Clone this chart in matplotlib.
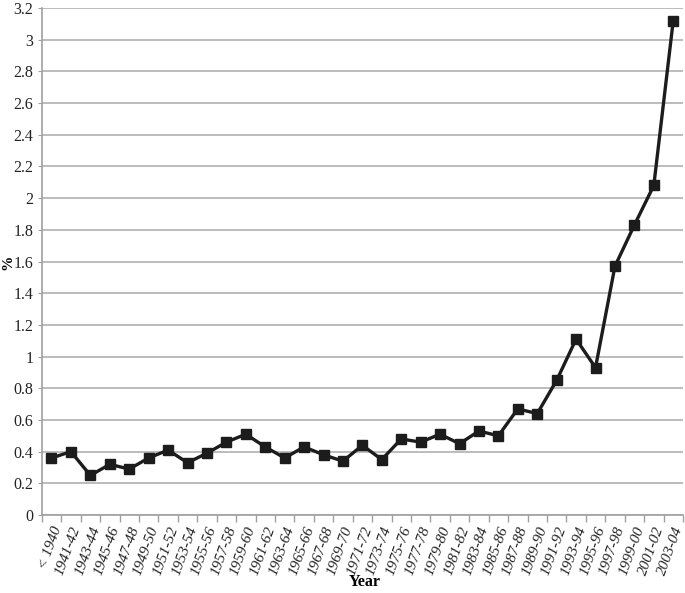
import matplotlib
matplotlib.use("Agg")
import matplotlib.pyplot as plt
from matplotlib.ticker import FixedLocator, FuncFormatter

categories = ["< 1940", "1941-42", "1943-44", "1945-46", "1947-48", "1949-50", "1951-52",
              "1953-54", "1955-56", "1957-58", "1959-60", "1961-62", "1963-64", "1965-66",
              "1967-68", "1969-70", "1971-72", "1973-74", "1975-76", "1977-78", "1979-80",
              "1981-82", "1983-84", "1985-86", "1987-88", "1989-90", "1991-92", "1993-94",
              "1995-96", "1997-98", "1999-00", "2001-02", "2003-04"]
values = [0.36, 0.40, 0.25, 0.32, 0.29, 0.36, 0.41, 0.33, 0.39, 0.46, 0.51, 0.43, 0.36,
          0.43, 0.38, 0.34, 0.44, 0.35, 0.48, 0.46, 0.51, 0.45, 0.53, 0.50, 0.67, 0.64,
          0.85, 1.11, 0.93, 1.57, 1.83, 2.08, 3.12]
yticks = [0, 0.2, 0.4, 0.6, 0.8, 1.0, 1.2, 1.4, 1.6, 1.8, 2.0, 2.2, 2.4, 2.6, 2.8, 3.0, 3.2]

plt.rcParams['font.family'] = ['Liberation Serif', 'DejaVu Serif']

fig = plt.figure(figsize=(6.85, 5.93), dpi=100)
ax = fig.add_axes([0.061, 0.1315, 0.936, 0.855])

x = list(range(len(categories)))
ax.plot(x, values, color='#1c1c1c', linewidth=2.4, marker='s', markersize=6.5,
        zorder=3, clip_on=False)

ax.set_xlim(-0.5, len(categories) - 0.5)
ax.set_ylim(0, 3.2)
ax.set_yticks(yticks)
ax.yaxis.set_major_formatter(FuncFormatter(lambda v, p: f"{v:g}"))
ax.yaxis.grid(True, color='#b0b0b0', linewidth=1.2)
ax.set_axisbelow(True)

ax.set_xticks(x)
ax.set_xticklabels(categories, rotation=70, ha='right', rotation_mode='anchor',
                   fontstyle='italic', fontsize=11, color='#222222')
ax.xaxis.set_minor_locator(FixedLocator([i - 0.5 for i in range(len(categories) + 1)]))
ax.tick_params(axis='x', which='major', length=0, pad=7)
ax.tick_params(axis='x', which='minor', length=5, color='#a0a0a0', width=1)
ax.tick_params(axis='y', length=3, color='#a0a0a0', labelsize=11.5, pad=3, labelcolor='#222222')

for s in ['top', 'right']:
    ax.spines[s].set_visible(False)
for s in ['left', 'bottom']:
    ax.spines[s].set_color('#a0a0a0')
    ax.spines[s].set_linewidth(1.2)

fig.text(0.012, 0.558, '%', rotation=90, fontweight='bold', fontsize=11, va='center', ha='center')
fig.text(0.533, 0.018, 'Year', fontweight='bold', fontsize=11.5, va='center', ha='center')

fig.savefig('out.png', dpi=100)
